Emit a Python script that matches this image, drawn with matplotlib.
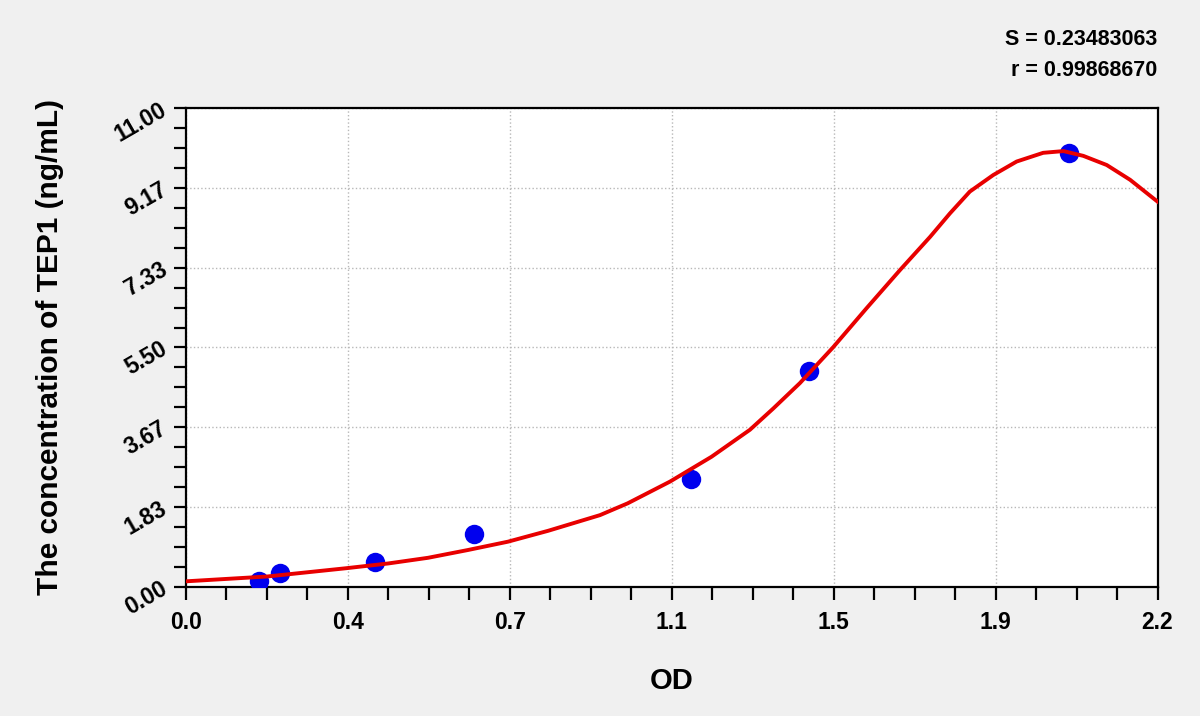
import matplotlib
matplotlib.use("Agg")
import matplotlib.pyplot as plt
from matplotlib.ticker import AutoMinorLocator
import numpy as np

plt.rcParams['font.family'] = ['Liberation Sans', 'DejaVu Sans']
plt.rcParams['font.weight'] = 'bold'

# standard points (OD vs concentration)
od = [0.166, 0.213, 0.427, 0.652, 1.143, 1.411, 1.999]
conc = [0.13, 0.31, 0.58, 1.21, 2.47, 4.96, 9.96]

# fitted curve
curve_x = [0.0, 0.183, 0.362, 0.458, 0.548, 0.639, 0.729, 0.82, 0.9375, 1.0,
           1.096, 1.19, 1.277, 1.33, 1.39, 1.465, 1.541, 1.617, 1.685, 1.73,
           1.775, 1.828, 1.881, 1.941, 1.987, 2.032, 2.085, 2.138, 2.19, 2.2]
curve_y = [0.13, 0.24, 0.43, 0.54, 0.67, 0.85, 1.04, 1.29, 1.65, 1.92,
           2.42, 2.99, 3.61, 4.10, 4.68, 5.50, 6.40, 7.28, 8.04, 8.58,
           9.08, 9.46, 9.77, 9.97, 10.01, 9.90, 9.69, 9.35, 8.93, 8.85]

xtick_labels = ["0.0", "0.4", "0.7", "1.1", "1.5", "1.9", "2.2"]
ytick_labels = ["0.00", "1.83", "3.67", "5.50", "7.33", "9.17", "11.00"]
stats = ["S = 0.23483063", "r = 0.99868670"]

fig = plt.figure(figsize=(12, 7.16), dpi=100, facecolor="#f0f0f0")
ax = fig.add_axes([0.155, 0.1802, 0.8096, 0.669])
ax.set_facecolor("white")

ax.plot(od, conc, "o", color="#0000ee", markersize=14, markeredgewidth=0, zorder=3)
ax.plot(curve_x, curve_y, "-", color="#e80000", linewidth=2.8, zorder=4)

ax.set_xlim(0, 2.2)
ax.set_ylim(0, 11)
ax.set_xticks(np.linspace(0, 2.2, len(xtick_labels)))
ax.set_xticklabels(xtick_labels)
ax.set_yticks(np.linspace(0, 11, len(ytick_labels)))
ax.set_yticklabels(ytick_labels)
ax.xaxis.set_minor_locator(AutoMinorLocator(4))
ax.yaxis.set_minor_locator(AutoMinorLocator(4))
ax.tick_params(which="both", direction="out", length=9, width=1.6, color="black")
ax.tick_params(which="major", labelsize=16.5)
ax.tick_params(axis="x", which="major", pad=8)
ax.tick_params(axis="y", which="major", pad=6)
for lab in ax.get_xticklabels() + ax.get_yticklabels():
    lab.set_fontweight("bold")
for lab in ax.get_yticklabels():
    lab.set_rotation(30)
    lab.set_rotation_mode("anchor")
    lab.set_ha("right")
    lab.set_va("center")

ax.grid(True, which="major", linestyle=":", color="#b8b8b8", linewidth=1)
for sp in ax.spines.values():
    sp.set_linewidth(1.6)
    sp.set_color("black")

ax.set_xlabel("OD", fontsize=21, fontweight="bold", labelpad=24)
ax.set_ylabel("The concentration of TEP1 (ng/mL)", fontsize=21.5, fontweight="bold", labelpad=34)

fig.text(0.9646, 0.945, stats[0], ha="right", va="center", fontsize=15.5, fontweight="bold")
fig.text(0.9646, 0.902, stats[1], ha="right", va="center", fontsize=15.5, fontweight="bold")

fig.savefig("out.png", dpi=100, facecolor=fig.get_facecolor())
